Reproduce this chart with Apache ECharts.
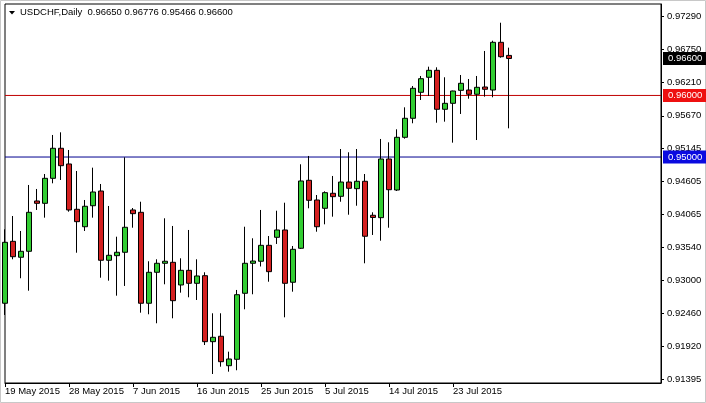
<!DOCTYPE html>
<html>
<head>
<meta charset="utf-8">
<title>USDCHF,Daily</title>
<script src="https://cdn.jsdelivr.net/npm/echarts@6/dist/echarts.min.js"></script>
<style>
    html, body {
        margin: 0;
        padding: 0;
        background: #fff;
    }
    #chartView {
        width: 706px;
        height: 403px;
    }
</style>
</head>
<body>
<div id="chartView"></div>
<script>
    // trading days (broker has Sunday bars), empty slots = chart shift on the right
    var dates = [
        '19 May 2015', '20 May 2015', '21 May 2015', '22 May 2015', '24 May 2015', '25 May 2015', '26 May 2015', '27 May 2015',
        '28 May 2015', '29 May 2015', '31 May 2015', '1 Jun 2015', '2 Jun 2015', '3 Jun 2015', '4 Jun 2015', '5 Jun 2015',
        '7 Jun 2015', '8 Jun 2015', '9 Jun 2015', '10 Jun 2015', '11 Jun 2015', '12 Jun 2015', '14 Jun 2015', '15 Jun 2015',
        '16 Jun 2015', '17 Jun 2015', '18 Jun 2015', '19 Jun 2015', '21 Jun 2015', '22 Jun 2015', '23 Jun 2015', '24 Jun 2015',
        '25 Jun 2015', '26 Jun 2015', '28 Jun 2015', '29 Jun 2015', '30 Jun 2015', '1 Jul 2015', '2 Jul 2015', '3 Jul 2015',
        '5 Jul 2015', '6 Jul 2015', '7 Jul 2015', '8 Jul 2015', '9 Jul 2015', '10 Jul 2015', '12 Jul 2015', '13 Jul 2015',
        '14 Jul 2015', '15 Jul 2015', '16 Jul 2015', '17 Jul 2015', '19 Jul 2015', '20 Jul 2015', '21 Jul 2015', '22 Jul 2015',
        '23 Jul 2015', '24 Jul 2015', '26 Jul 2015', '27 Jul 2015', '28 Jul 2015', '29 Jul 2015', '30 Jul 2015', '31 Jul 2015',
        '', '', '', '', '', '', '', '', '', '', '', '', '', '', '', '', '', '', ''
    ];

    var opens = [
        0.92625, 0.93631, 0.93372, 0.93469, 0.94286, 0.94248, 0.94654, 0.95142,
        0.94887, 0.94151, 0.93868, 0.94209, 0.94448, 0.93323, 0.93398, 0.93453,
        0.94140, 0.94102, 0.92625, 0.93128, 0.93274, 0.93290, 0.92922, 0.93160,
        0.92949, 0.93073, 0.92001, 0.92089, 0.91611, 0.91715, 0.92787, 0.93274,
        0.93307, 0.93566, 0.93696, 0.93815, 0.92966, 0.93518, 0.94622, 0.94302,
        0.94167, 0.94411, 0.94362, 0.94594, 0.94486, 0.94606, 0.94054, 0.94015,
        0.94968, 0.94464, 0.95320, 0.95629, 0.96051, 0.96295, 0.96408, 0.95775,
        0.95872, 0.96083, 0.96088, 0.96019, 0.96137, 0.96088, 0.96863, 0.96650
    ];
    var closes = [
        0.93615, 0.93381, 0.93469, 0.94102, 0.94248, 0.94654, 0.95142, 0.94859,
        0.94140, 0.93950, 0.94200, 0.94432, 0.93323, 0.93404, 0.93453, 0.93859,
        0.94080, 0.92625, 0.93128, 0.93274, 0.93307, 0.92667, 0.93160, 0.92949,
        0.93068, 0.92001, 0.92072, 0.91676, 0.91720, 0.92764, 0.93274, 0.93311,
        0.93566, 0.93138, 0.93815, 0.92949, 0.93501, 0.94611, 0.94297, 0.93868,
        0.94421, 0.94356, 0.94594, 0.94492, 0.94606, 0.93713, 0.94018, 0.94968,
        0.94469, 0.95320, 0.95629, 0.96116, 0.96272, 0.96408, 0.95775, 0.95872,
        0.96072, 0.96197, 0.96019, 0.96132, 0.96100, 0.96863, 0.96629, 0.96600
    ];
    var lows = [
        0.92435, 0.93339, 0.93031, 0.92829, 0.94140, 0.94015, 0.94573, 0.94627,
        0.94112, 0.93446, 0.93799, 0.94015, 0.93040, 0.92992, 0.92748, 0.92906,
        0.93852, 0.92472, 0.92446, 0.92300, 0.92933, 0.92381, 0.92797, 0.92722,
        0.92678, 0.91947, 0.91476, 0.91595, 0.91514, 0.91537, 0.92527, 0.92771,
        0.93222, 0.92975, 0.93588, 0.92397, 0.92813, 0.93506, 0.94167, 0.93787,
        0.93907, 0.94031, 0.94274, 0.94063, 0.94209, 0.93274, 0.93734, 0.93641,
        0.93852, 0.94448, 0.95298, 0.95548, 0.95926, 0.95991, 0.95557, 0.95574,
        0.95233, 0.95699, 0.95947, 0.95276, 0.95980, 0.95970, 0.96613, 0.95466
    ];
    var highs = [
        0.93826, 0.94042, 0.93799, 0.94546, 0.94481, 0.94724, 0.95358, 0.95401,
        0.95114, 0.94773, 0.94302, 0.94827, 0.94562, 0.94205, 0.93706, 0.94995,
        0.94172, 0.94274, 0.93307, 0.93339, 0.94005, 0.93880, 0.93355, 0.93815,
        0.93339, 0.93128, 0.92462, 0.92462, 0.91839, 0.92841, 0.93868, 0.93680,
        0.94140, 0.93717, 0.94128, 0.94258, 0.93555, 0.94882, 0.95017, 0.94383,
        0.94443, 0.94692, 0.95130, 0.95077, 0.95130, 0.94724, 0.94102, 0.95293,
        0.95239, 0.95450, 0.95807, 0.96153, 0.96316, 0.96467, 0.96457, 0.96295,
        0.96077, 0.96332, 0.96267, 0.96316, 0.96722, 0.96889, 0.97181, 0.96776
    ];

    var priceTicks = [0.97290, 0.96750, 0.96210, 0.95670, 0.95145, 0.94605, 0.94065, 0.93540, 0.93000, 0.92460, 0.91920, 0.91395];
    var levelLines = [0.96000, 0.95000];
    var lastPrice = 0.96600;

    var fontName = "'Liberation Sans', Arial, sans-serif";

    var candles = [];
    for (var i = 0; i < opens.length; i++) {
        candles.push([opens[i], closes[i], lows[i], highs[i]]);
    }

    function showDate(idx) {
        return idx % 8 === 0 && dates[idx] !== '';
    }

    // horizontal level across the whole chart, price box on the axis
    function priceLine(value, lineColor, boxColor, hideLine) {
        var levels = dates.map(function () {
            return value;
        });
        return {
            type: 'line',
            data: levels,
            silent: true,
            symbol: 'none',
            color: lineColor,
            z: hideLine ? 5 : 1,
            lineStyle: {
                color: hideLine ? 'rgba(0,0,0,0)' : lineColor,
                width: 1
            },
            endLabel: {
                show: true,
                distance: 2,
                color: '#fff',
                fontSize: 9.5,
                fontFamily: fontName,
                backgroundColor: boxColor,
                padding: [2, 5, 1, 5],
                formatter: function () {
                    return value.toFixed(5);
                }
            }
        };
    }

    var chartView = echarts.init(document.getElementById('chartView'));

    var option = {
        animation: false,
        backgroundColor: '#fff',
        grid: {
            left: 5,
            right: 45,
            top: 4,
            bottom: 20,
            show: true,
            borderColor: '#000',
            borderWidth: 1,
            backgroundColor: '#fff'
        },
        graphic: [
            {
                type: 'rect',
                silent: true,
                z: -1,
                shape: {x: 0.5, y: 0.5, width: 705, height: 402},
                style: {fill: 'none', stroke: '#c8c8c8', lineWidth: 1}
            },
            {
                type: 'polygon',
                silent: true,
                shape: {points: [[9, 11], [15, 11], [12, 14.5]]},
                style: {fill: '#000'}
            },
            {
                type: 'text',
                silent: true,
                left: 20,
                top: 7,
                style: {
                    text: 'USDCHF,Daily  ' + opens[63].toFixed(5) + ' ' + highs[63].toFixed(5) + ' ' +
                        lows[63].toFixed(5) + ' ' + closes[63].toFixed(5),
                    font: '9.5px ' + fontName,
                    fill: '#000'
                }
            }
        ],
        xAxis: {
            type: 'category',
            data: dates,
            boundaryGap: false,
            axisLine: {lineStyle: {color: '#000', width: 1}},
            axisTick: {
                interval: showDate,
                length: 4,
                lineStyle: {color: '#000'}
            },
            axisLabel: {
                interval: showDate,
                align: 'left',
                margin: 3,
                color: '#000',
                fontSize: 9.5,
                fontFamily: fontName
            },
            splitLine: {show: false}
        },
        yAxis: {
            type: 'value',
            position: 'right',
            scale: true,
            min: 0.91330,
            max: 0.97485,
            axisLine: {show: true, lineStyle: {color: '#000', width: 1}},
            axisTick: {
                show: true,
                length: 3,
                customValues: priceTicks,
                lineStyle: {color: '#000'}
            },
            axisLabel: {
                customValues: priceTicks,
                margin: 6,
                color: '#000',
                fontSize: 9.5,
                fontFamily: fontName,
                formatter: function (v) {
                    return v.toFixed(5);
                }
            },
            splitLine: {show: false}
        },
        series: [
            priceLine(levelLines[0], '#c00000', '#ee1010', false),
            priceLine(levelLines[1], '#000090', '#0a0ae0', false),
            {
                name: 'USDCHF',
                type: 'candlestick',
                data: candles,
                barWidth: 5,
                z: 3,
                itemStyle: {
                    color: '#32cd32',
                    color0: '#d42020',
                    borderColor: '#000',
                    borderColor0: '#000',
                    borderWidth: 1
                }
            },
            priceLine(lastPrice, '#000', '#000', true)
        ]
    };

    chartView.setOption(option);
</script>
</body>
</html>
